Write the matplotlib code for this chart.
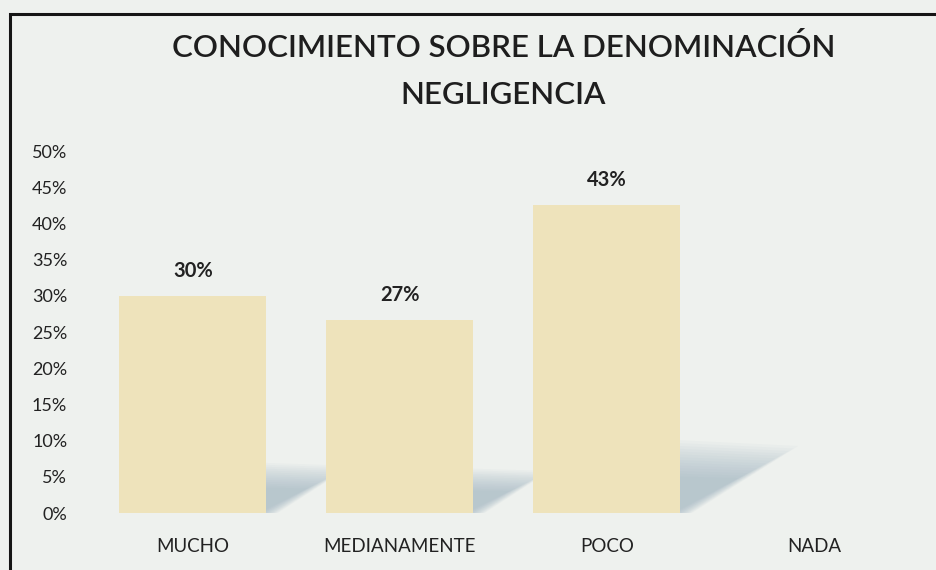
import numpy as np
import matplotlib.pyplot as plt
from matplotlib.patches import Polygon, Rectangle
import matplotlib

matplotlib.rc('font', family='Lato')

# data
categories = ['MUCHO', 'MEDIANAMENTE', 'POCO', 'NADA']
values = [30.0, 26.7, 42.6, 0.0]
labels = ['30%', '27%', '43%', '']
title = 'CONOCIMIENTO SOBRE LA DENOMINACIÓN\nNEGLIGENCIA'

bg = '#eef1ee'
bar_color = '#eee3bb'

fig = plt.figure(figsize=(9.36, 5.70), dpi=100, facecolor=bg)
ax = fig.add_axes([0.0956, 0.1, 0.8846, 0.635])
ax.set_facecolor(bg)

x = np.arange(len(categories))
bar_width = 0.71
bars = ax.bar(x, values, width=bar_width, color=bar_color, zorder=4)

# soft bluish shadows cast behind the bars (layered to fake a blur)
n_layers = 14
for b in bars:
    h = b.get_height()
    if h <= 0:
        continue
    xl, xr = b.get_x(), b.get_x() + b.get_width()
    s = 0.011 * h
    k = 0.21 * h
    for i in range(n_layers):
        f = i / (n_layers - 1)
        grow = 1.15 - 0.55 * f
        ex = 0.03 * (1 - f)
        poly = Polygon([(xl + 0.05, 0.5), (xr, 0.5 - 1.5 * (1 - f)),
                        (xr + s * grow + ex, k * grow * 0.9),
                        (xl + s * grow, k * grow)],
                       closed=True, facecolor='#90a8b8', edgecolor='none',
                       alpha=0.05, zorder=2)
        ax.add_patch(poly)

for b, lab in zip(bars, labels):
    if lab:
        ax.text(b.get_x() + b.get_width() / 2, b.get_height() + 2.0, lab,
                ha='center', va='bottom', fontsize=14.5, fontweight='bold', color='#222222')

ax.set_xlim(-0.5, len(categories) - 0.5)
ax.set_ylim(0, 50)
ax.set_yticks(np.arange(0, 51, 5))
ax.set_yticklabels([f'{v}%' for v in range(0, 51, 5)], fontsize=13, color='#222222')
ax.set_xticks(x)
ax.set_xticklabels(categories, fontsize=13.5, color='#222222')
ax.tick_params(axis='y', length=0, pad=16)
ax.tick_params(axis='x', length=0, pad=18)
for sp in ax.spines.values():
    sp.set_visible(False)

ax.set_title(title, fontsize=22.5, color='#1e1e1e', pad=34, linespacing=1.8,
             fontweight='semibold')

# outer frame of the scanned chart
fig.patches.append(Rectangle((10 / 936, -0.1), 1.2, 1 - 14 / 570 + 0.1,
                             transform=fig.transFigure, fill=False,
                             edgecolor='#151515', linewidth=2.2))

plt.savefig('out.png', dpi=100, facecolor=bg)
